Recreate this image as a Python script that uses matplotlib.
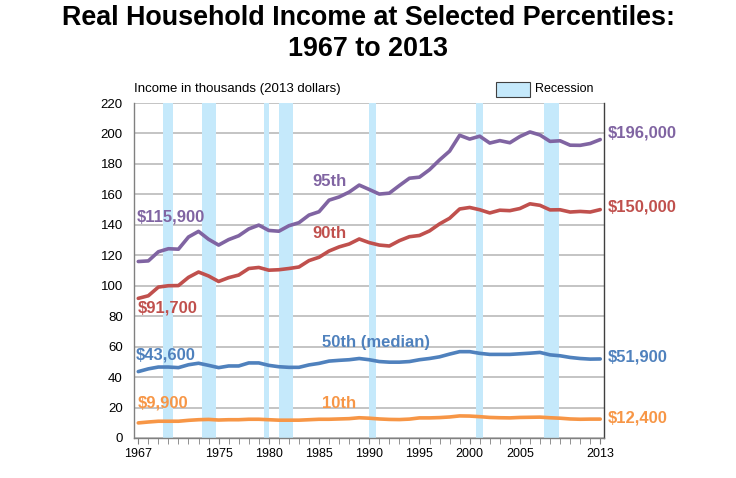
import matplotlib
matplotlib.use("Agg")
import matplotlib.pyplot as plt
from matplotlib.patches import Rectangle
from matplotlib.ticker import MultipleLocator

plt.rcParams['font.family'] = ['Liberation Sans', 'DejaVu Sans']

years = list(range(1967, 2014))

p95 = [115.9, 116.3, 122.3, 124.3, 124.0, 132.0, 135.7, 130.5, 126.7, 130.3, 132.8, 137.3,
       139.8, 136.3, 135.8, 139.4, 141.4, 146.4, 148.6, 156.2, 158.3, 161.5, 166.1, 163.2,
       160.2, 160.8, 165.8, 170.6, 171.3, 176.2, 182.6, 188.4, 198.8, 196.3, 198.2, 193.7,
       195.3, 193.9, 198.0, 201.0, 199.0, 194.8, 195.2, 192.3, 192.2, 193.4, 196.0]

p90 = [91.7, 93.4, 99.1, 100.0, 100.1, 105.5, 109.0, 106.4, 102.8, 105.3, 107.0, 111.3,
       112.0, 110.2, 110.5, 111.3, 112.3, 116.5, 118.7, 122.8, 125.5, 127.4, 130.7, 128.3,
       126.7, 126.1, 129.6, 132.2, 133.0, 136.0, 140.6, 144.3, 150.4, 151.4, 149.9, 147.8,
       149.6, 149.3, 150.7, 153.8, 152.8, 149.8, 149.9, 148.4, 148.8, 148.4, 150.0]

p50 = [43.6, 45.4, 46.6, 46.6, 46.2, 48.1, 49.1, 47.7, 46.2, 47.3, 47.3, 49.3,
       49.3, 47.7, 46.8, 46.4, 46.4, 48.0, 49.0, 50.5, 51.0, 51.4, 52.2, 51.4,
       50.2, 49.8, 49.8, 50.2, 51.4, 52.2, 53.3, 55.1, 56.7, 56.7, 55.6, 54.9,
       54.9, 54.9, 55.3, 55.7, 56.2, 54.6, 54.0, 52.9, 52.2, 51.8, 51.9]

p10 = [9.9, 10.5, 11.0, 11.0, 11.0, 11.6, 12.0, 12.2, 11.8, 12.0, 12.0, 12.3,
       12.3, 12.0, 11.7, 11.7, 11.7, 12.0, 12.3, 12.3, 12.5, 12.7, 13.3, 13.0,
       12.5, 12.2, 12.1, 12.4, 13.2, 13.2, 13.4, 13.8, 14.5, 14.4, 14.0, 13.5,
       13.3, 13.2, 13.5, 13.6, 13.7, 13.3, 13.0, 12.5, 12.3, 12.4, 12.4]

rec_start = [1969.42, 1973.33, 1979.5, 1981.0, 1990.0, 2000.67, 2007.42]
rec_end = [1970.42, 1974.75, 1980.0, 1982.42, 1990.67, 2001.33, 2008.92]

xtick_years = [1967, 1975, 1980, 1985, 1990, 1995, 2000, 2005, 2013]

C95 = '#8064A2'
C90 = '#C0504D'
C50 = '#4F81BD'
C10 = '#F79646'
REC = '#C5E9FB'

fig = plt.figure(figsize=(7.36, 4.78), dpi=100)
ax = fig.add_axes([0.182, 0.0837, 0.639, 0.7008])

for s, e in zip(rec_start, rec_end):
    ax.axvspan(s, e, color=REC, lw=0, zorder=1)

ax.set_ylim(0, 220)
ax.set_xlim(1966.57, 2013.4)
ax.yaxis.set_major_locator(MultipleLocator(20))
ax.grid(axis='y', color='#BFBFBF', lw=1.3, zorder=0)
ax.set_axisbelow(True)

for vals, c in [(p95, C95), (p90, C90), (p50, C50), (p10, C10)]:
    ax.plot(years, vals, color=c, lw=2.6, zorder=3, solid_capstyle='round')

ax.set_xticks(xtick_years)
ax.set_xticks(years, minor=True)
ax.tick_params(axis='x', which='both', direction='out', length=4, color='#808080',
               labelsize=9, pad=3)
ax.tick_params(axis='y', which='both', length=0, labelsize=9.5, pad=8)
ax.spines['top'].set_visible(False)
ax.spines['left'].set_color('#808080')
ax.spines['bottom'].set_color('#808080')
ax.spines['right'].set_color('#404040')
for sp in ['left', 'bottom', 'right']:
    ax.spines[sp].set_linewidth(1.0)

# annotations
def ftext(x, y, s, c, size=12, ha='left'):
    fig.text(x / 736, 1 - y / 478, s, color=c, fontsize=size, fontweight='bold',
             ha=ha, va='center')

ftext(137, 217, '$115,900', C95)
ftext(312, 182, '95th', C95)
ftext(312, 234, '90th', C90)
ftext(138, 308, '$91,700', C90)
ftext(322, 342, '50th (median)', C50)
ftext(136, 355, '$43,600', C50)
ftext(138, 403, '$9,900', C10)
ftext(322, 403, '10th', C10)
ftext(608, 133, '$196,000', C95)
ftext(608, 207, '$150,000', C90)
ftext(608, 357, '$51,900', C50)
ftext(608, 418, '$12,400', C10)

fig.text(134 / 736, 1 - 89 / 478, 'Income in thousands (2013 dollars)', fontsize=9.5,
         ha='left', va='center')
fig.patches.append(Rectangle((496 / 736, 1 - 97 / 478), 34 / 736, 15 / 478,
                             transform=fig.transFigure, facecolor=REC,
                             edgecolor='#404040', lw=0.8))
fig.text(535 / 736, 1 - 89 / 478, 'Recession', fontsize=9, ha='left', va='center')

fig.text(0.5, 1 - 18 / 478, 'Real Household Income at Selected Percentiles:',
         fontsize=19.4, fontweight='bold', ha='center', va='center')
fig.text(0.5, 1 - 49 / 478, '1967 to 2013', fontsize=19.4, fontweight='bold',
         ha='center', va='center')

fig.savefig('out.png', dpi=100)
